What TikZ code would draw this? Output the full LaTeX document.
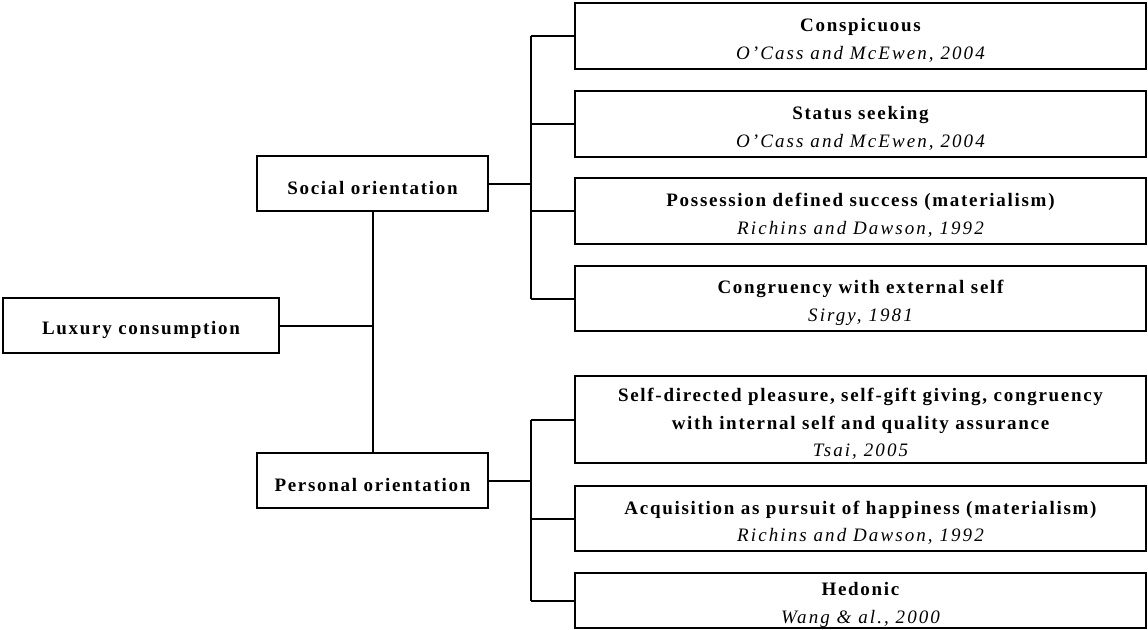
\documentclass[tikz,border=0pt]{standalone}
\usepackage{fontspec}
\setmainfont{Liberation Serif}[LetterSpace=9]
\newfontfamily\citefont{Liberation Serif}[LetterSpace=11]
\newcommand{\tstrut}{\rule{0pt}{22pt}}
\newcommand{\refcite}[1]{{\citefont\mdseries\itshape #1}}
\begin{document}
\begin{tikzpicture}[x=1pt,y=-1pt,
  every node/.style={font=\fontsize{19}{27.5}\selectfont\bfseries},
  boxst/.style={draw, line width=2pt, inner sep=0pt, align=center},
  lbox/.style={boxst, minimum width=231pt, minimum height=55pt},
  rbox/.style={boxst, minimum width=571pt},
  conn/.style={line width=2pt}
]
\useasboundingbox (0,0) rectangle (1148,629);
% left nodes
\node[boxst, minimum width=276pt, minimum height=55pt] (lux) at (141,325.5) {\tstrut Luxury consumption};
\node[lbox] (soc) at (372.5,183.5) {\tstrut Social orientation};
\node[lbox] (per) at (372.5,480.5) {\tstrut Personal orientation};
% right nodes
\node[rbox, minimum height=66pt] (b1) at (860.5,36) {\tstrut Conspicuous\\ \refcite{O’Cass and McEwen, 2004}};
\node[rbox, minimum height=66pt] (b2) at (860.5,124) {\tstrut Status seeking\\ \refcite{O’Cass and McEwen, 2004}};
\node[rbox, minimum height=66pt] (b3) at (860.5,211) {\tstrut Possession defined success (materialism)\\ \refcite{Richins and Dawson, 1992}};
\node[rbox, minimum height=65pt] (b4) at (860.5,298.5) {\tstrut Congruency with external self\\ \refcite{Sirgy, 1981}};
\node[rbox, minimum height=87pt] (b5) at (860.5,419.5) {\tstrut Self-directed pleasure, self-gift giving, congruency\\ with internal self and quality assurance\\ \refcite{Tsai, 2005}};
\node[rbox, minimum height=65pt] (b6) at (860.5,518.5) {\tstrut Acquisition as pursuit of happiness (materialism)\\ \refcite{Richins and Dawson, 1992}};
\node[rbox, minimum height=55pt] (b7) at (860.5,600.5) {\tstrut Hedonic\\ \refcite{Wang \& al., 2000}};
% bus coordinates
\coordinate (sbus) at (531,183.5);
\coordinate (pbus) at (531,480.5);
% trunk
\draw[conn] (soc.south) -- (per.north);
\draw[conn] (lux.east) -- (lux.east -| soc.south);
% social bus
\draw[conn] (soc.east) -- (sbus);
\draw[conn] (b1.west -| sbus) -- (b4.west -| sbus);
\foreach \b in {b1,b2,b3,b4} \draw[conn] (\b.west -| sbus) -- (\b.west);
% personal bus
\draw[conn] (per.east) -- (pbus);
\draw[conn] (b5.west -| pbus) -- (b7.west -| pbus);
\foreach \b in {b5,b6,b7} \draw[conn] (\b.west -| pbus) -- (\b.west);
\end{tikzpicture}
\end{document}
